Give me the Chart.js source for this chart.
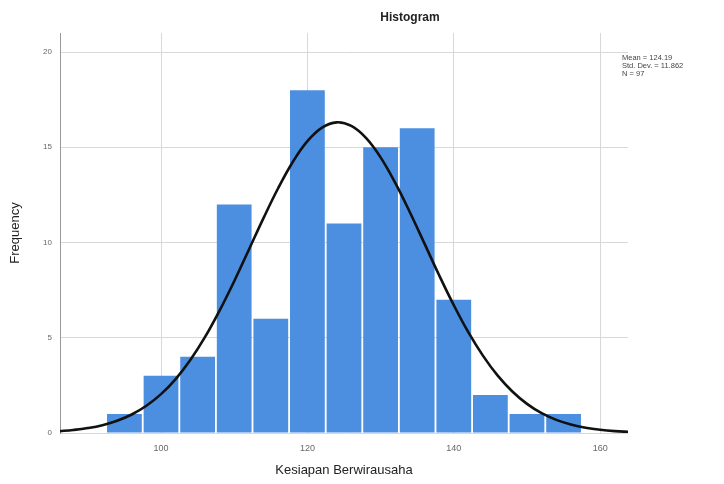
<!DOCTYPE html>
<html>
<head>
<meta charset="utf-8">
<script src="https://cdn.jsdelivr.net/npm/chart.js@4.4.1/dist/chart.umd.min.js"></script>
<style>
  html, body { margin: 0; padding: 0; background: #fff; }
  #wrap { width: 724px; height: 484px; position: relative; }
</style>
</head>
<body>
<div id="wrap"><canvas id="c" width="724" height="484"></canvas></div>
<script>
// ---- data ----
const binCenters = [95, 100, 105, 110, 115, 120, 125, 130, 135, 140, 145, 150, 155];
const frequencies = [1, 3, 4, 12, 6, 18, 11, 15, 16, 7, 2, 1, 1];
const curveX = [86, 88, 90, 92, 94, 96, 98, 100, 102, 104, 106, 108, 110, 112, 114, 116, 118, 120, 122, 124,
                126, 128, 130, 132, 134, 136, 138, 140, 142, 144, 146, 148, 150, 152, 154, 156, 158, 160, 162, 164];
const curveY = [0.09, 0.16, 0.26, 0.41, 0.64, 0.97, 1.43, 2.04, 2.83, 3.83, 5.03, 6.43, 7.97, 9.62, 11.28, 12.85, 14.23, 15.32, 16.03, 16.31,
                16.12, 15.49, 14.47, 13.13, 11.59, 9.94, 8.28, 6.71, 5.28, 4.05, 3.01, 2.18, 1.53, 1.04, 0.69, 0.45, 0.28, 0.17, 0.10, 0.06];
const xTicks = [100, 120, 140, 160];
const yTicks = [0, 5, 10, 15, 20];
const statLines = ["Mean = 124.19", "Std. Dev. = 11.862", "N = 97"];
const chartTitle = "Histogram";
const xTitle = "Kesiapan Berwirausaha";
const yTitle = "Frequency";

const FONT = "'Liberation Sans', Arial, sans-serif";

const textPlugin = {
  id: 'extraText',
  afterDraw(chart) {
    const ctx = chart.ctx;
    ctx.save();
    ctx.fillStyle = '#222';
    ctx.font = 'bold 12px ' + FONT;
    ctx.textAlign = 'center';
    ctx.textBaseline = 'middle';
    ctx.fillText(chartTitle, 410, 18);
    ctx.fillStyle = '#444';
    ctx.font = '7.5px ' + FONT;
    ctx.textAlign = 'left';
    statLines.forEach((t, i) => ctx.fillText(t, 622, 58 + i * 8));
    ctx.restore();
  }
};

new Chart(document.getElementById('c'), {
  data: {
    datasets: [
      {
        type: 'line',
        data: curveX.map((x, i) => ({ x: x, y: curveY[i] })),
        borderColor: '#111',
        borderWidth: 2.6,
        pointRadius: 0,
        tension: 0.4,
        fill: false,
        order: 0
      },
      {
        type: 'bar',
        data: binCenters.map((x, i) => ({ x: x, y: frequencies[i] })),
        backgroundColor: '#4c8fe0',
        borderWidth: 0,
        barPercentage: 0.95,
        categoryPercentage: 1.0,
        order: 1
      }
    ]
  },
  options: {
    responsive: false,
    animation: false,
    devicePixelRatio: 1,
    layout: { padding: { left: 0, top: 33, right: 96, bottom: 0 } },
    plugins: { legend: { display: false }, tooltip: { enabled: false }, title: { display: false } },
    scales: {
      x: {
        type: 'linear',
        min: 86.2,
        max: 163.8,
        offset: false,
        afterBuildTicks(scale) { scale.ticks = xTicks.map(v => ({ value: v })); },
        afterFit(scale) { scale.height = 51; },
        grid: { color: '#d8d8d8', lineWidth: 1, drawTicks: false, offset: false },
        border: { display: false },
        ticks: { color: '#666', font: { size: 9, family: FONT }, padding: 10, maxRotation: 0 },
        title: { display: true, text: xTitle, color: '#222', font: { size: 13, family: FONT }, padding: { top: 0, bottom: 6 } }
      },
      y: {
        min: 0,
        max: 21,
        afterBuildTicks(scale) { scale.ticks = yTicks.map(v => ({ value: v })); },
        afterFit(scale) { scale.width = 60; },
        grid: { color: '#d8d8d8', lineWidth: 1, drawTicks: false },
        border: { display: true, color: '#999', width: 1 },
        ticks: { color: '#666', font: { size: 8, family: FONT }, padding: 8 },
        title: { display: true, text: yTitle, color: '#222', font: { size: 13, family: FONT, weight: '500' }, padding: { top: 8, bottom: 0 } }
      }
    }
  },
  plugins: [textPlugin]
});
</script>
</body>
</html>
